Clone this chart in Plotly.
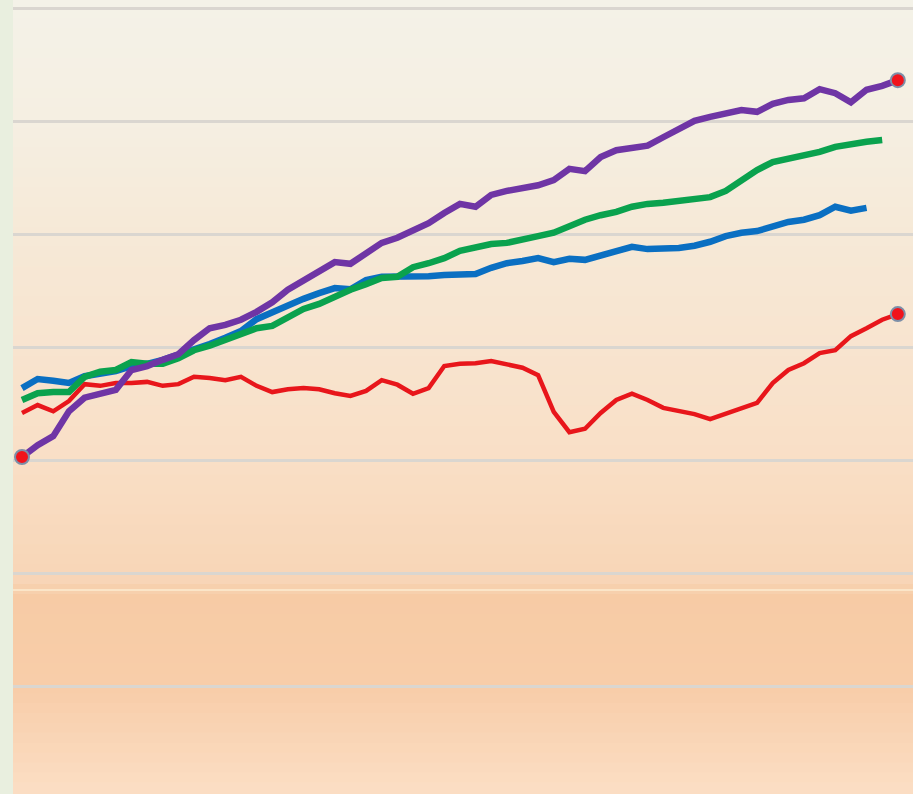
import plotly.graph_objects as go

# index values per period (0..56)
periods = list(range(57))

purple = [100.7, 102.8, 104.4, 108.8, 111.2, 111.9, 112.6, 116.1, 116.8, 117.9,
          118.9, 121.4, 123.5, 124.1, 125.0, 126.4, 128.1, 130.3, 132.0, 133.5,
          135.2, 134.9, 136.8, 138.6, 139.5, 140.9, 142.1, 143.9, 145.5, 145.0,
          147.1, 147.8, 148.3, 148.8, 149.7, 151.7, 151.3, 153.8, 155.0, 155.4,
          155.8, 157.3, 158.8, 160.2, 160.9, 161.6, 162.1, 161.8, 163.2, 163.9,
          164.2, 165.8, 165.1, 163.5, 165.7, 166.4, 167.4]

green = [110.8, 112.0, 112.2, 112.2, 114.9, 115.8, 116.1, 117.5, 117.2, 117.2,
         118.2, 119.6, 120.4, 121.4, 122.5, 123.5, 123.9, 125.3, 126.9, 127.8,
         129.2, 130.3, 131.3, 132.4, 132.6, 134.3, 135.0, 135.9, 137.2, 137.9,
         138.4, 138.6, 139.1, 139.8, 140.4, 141.6, 142.7, 143.5, 144.1, 145.0,
         145.5, 145.7, 146.0, 146.5, 146.7, 147.8, 149.6, 151.5, 152.9, 153.5,
         154.0, 154.7, 155.6, 156.1, 156.5, 156.8]

blue = [112.9, 114.5, 114.2, 113.8, 115.0, 115.4, 115.9, 116.8, 117.2, 117.9,
        118.8, 119.6, 120.7, 121.8, 123.0, 125.1, 126.4, 127.6, 128.7, 129.7,
        130.6, 130.4, 132.0, 132.6, 132.6, 132.6, 132.7, 132.9, 133.1, 133.1,
        134.2, 135.0, 135.4, 135.9, 135.2, 135.8, 135.6, 136.3, 137.2, 137.9,
        137.5, 137.5, 137.7, 138.1, 138.8, 139.8, 140.4, 140.7, 141.6, 142.3,
        142.7, 143.5, 145.0, 144.3, 144.8]

red = [108.5, 109.9, 108.8, 110.6, 113.6, 113.3, 113.8, 113.8, 114.0, 113.3,
       113.6, 114.9, 114.7, 114.3, 114.9, 113.3, 112.2, 112.7, 112.9, 112.7,
       112.0, 111.5, 112.4, 114.3, 113.5, 111.9, 112.9, 116.8, 117.2, 117.3,
       117.7, 117.2, 116.5, 115.2, 108.7, 105.1, 105.7, 108.5, 110.8, 111.9,
       110.8, 109.4, 108.8, 108.3, 107.4, 108.3, 109.4, 110.3, 113.8, 116.1,
       117.3, 119.1, 119.6, 122.1, 123.5, 125.0, 126.0]

grid_vals = [60, 80, 100, 120, 140, 160, 180]

fig = go.Figure()

series = [
    (red, '#e8161b', 4.5),
    (blue, '#0a6fc2', 6.5),
    (green, '#0aa24e', 6.5),
    (purple, '#6f35a5', 6.5),
]
for vals, color, width in series:
    fig.add_trace(go.Scatter(x=periods[:len(vals)], y=vals, mode='lines',
                             line=dict(color=color, width=width),
                             hoverinfo='skip', showlegend=False))

# highlighted points: purple start, purple end, red end
fig.add_trace(go.Scatter(
    x=[periods[0], periods[len(purple) - 1], periods[len(red) - 1]],
    y=[purple[0], purple[-1], red[-1]],
    mode='markers',
    marker=dict(color='#f0141c', size=14, line=dict(color='#7d8fa8', width=2)),
    hoverinfo='skip', showlegend=False))

# background gradient behind the grid
stops = [
    (0.000, (244, 242, 232)),
    (0.150, (245, 239, 226)),
    (0.300, (246, 233, 215)),
    (0.440, (248, 228, 207)),
    (0.580, (249, 223, 198)),
    (0.737, (248, 213, 182)),
    (0.750, (247, 203, 165)),
    (0.870, (248, 205, 169)),
    (1.000, (251, 222, 196)),
]


def color_at(t):
    for (t0, c0), (t1, c1) in zip(stops[:-1], stops[1:]):
        if t0 <= t <= t1:
            f = 0 if t1 == t0 else (t - t0) / (t1 - t0)
            return 'rgb(%d,%d,%d)' % tuple(round(a + (b - a) * f) for a, b in zip(c0, c1))
    return 'rgb(%d,%d,%d)' % stops[-1][1]


n = 80
for i in range(n):
    t0, t1 = i / n, (i + 1) / n
    fig.add_shape(type='rect', xref='paper', yref='paper', x0=0, x1=1,
                  y0=1 - t1, y1=1 - t0 + 0.002, layer='below',
                  line=dict(width=0), fillcolor=color_at((t0 + t1) / 2))

# thin light band near the lower part
fig.add_shape(type='line', xref='paper', yref='paper', x0=0, x1=1,
              y0=1 - 590 / 794, y1=1 - 590 / 794, layer='below',
              line=dict(color='#fbe5c8', width=2))

fig.update_layout(
    width=913, height=794,
    margin=dict(l=13, r=0, t=0, b=0),
    paper_bgcolor='#e9efdf',
    plot_bgcolor='rgba(0,0,0,0)',
    xaxis=dict(range=[-0.575, 56.97], showgrid=False, zeroline=False,
               showticklabels=False, showline=False, fixedrange=True),
    yaxis=dict(range=[41.06, 181.59], tickvals=grid_vals, showgrid=True,
               gridcolor='#dad6d0', gridwidth=3, zeroline=False,
               showticklabels=False, showline=False, fixedrange=True),
)

# drop the page margin so the figure sits flush in the window
fig.write_html("out.html", config={'displayModeBar': False},
               post_script="document.body.style.margin='0';"
                           "document.body.style.overflow='hidden';")
